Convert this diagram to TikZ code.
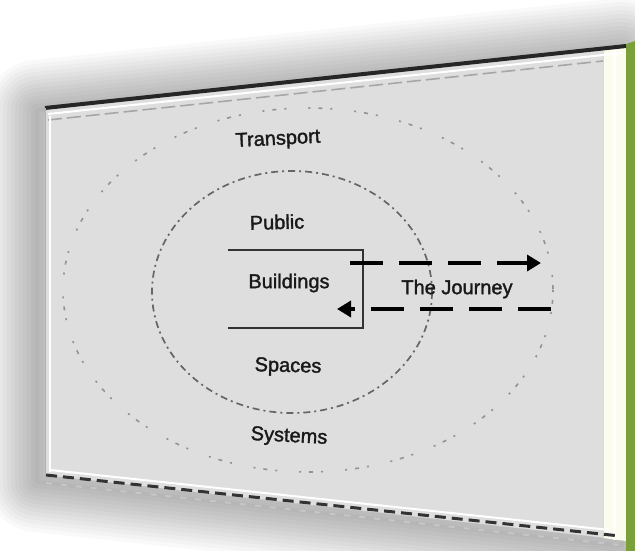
\documentclass[tikz,border=0pt]{standalone}
\usepackage{fontspec}
\setmainfont{Liberation Sans}
\newfontfamily\lblfont{Liberation Sans}[FakeBold=1.6]
\usetikzlibrary{arrows.meta}
\definecolor{framegreen}{RGB}{122,160,58}
\definecolor{panel}{RGB}{222,222,223}
\definecolor{cream}{RGB}{252,252,238}

\begin{document}
\begin{tikzpicture}[x=1pt,y=-1pt,
  lbl/.style={font=\lblfont\fontsize{20}{22}\selectfont, text=black!90, inner sep=0pt},
  outerring/.style={gray!85, line width=1.6pt,
    dash pattern=on 2pt off 8pt on 4pt off 8pt on 2pt off 22pt},
  innerring/.style={black!60, line width=1.7pt,
    dash pattern=on 7pt off 4pt on 2pt off 4pt},
  boxline/.style={black!80, line width=1.6pt},
  journey/.style={black, line width=4pt, dash pattern=on 33pt off 16pt,
    -{Triangle[length=14pt,width=16pt]}},
]
% page background
\fill[white] (0,0) rectangle (635,551);
\useasboundingbox (0,0) rectangle (635,551);

% soft drop shadow behind the board
\foreach \w in {100,92,...,4} {
  \draw[black, draw opacity=0.022, line width=\w pt, line join=round]
    (37,110) -- (622,48) -- (622,546) -- (37,482) -- cycle;
}

% the board, seen in perspective
\fill[panel] (45,108) -- (625,47) -- (625,540) -- (45,475) -- cycle;
% light band along the right edge and the green side strip
\fill[cream] (603,50) -- (626,47) -- (626,541) -- (603,538) -- cycle;
\draw[white, line width=3pt] (614,50) -- (614,540);
\draw[gray!30, line width=0.8pt] (603,51) -- (603,538);
\fill[framegreen] (626,44) -- (635,41) -- (635,551) -- (626,551) -- cycle;

% top edge: dark rim, white line, grey dashed line
\draw[black!85, line width=4pt] (45,108) -- (626,46);
\draw[white, line width=2pt] (48,114) -- (622,53);
\draw[gray!70, line width=1.6pt, dash pattern=on 14pt off 5pt] (48,120) -- (603,61);
% left edge
\draw[gray!60, line width=1pt] (45.5,108) -- (45.5,475);
\draw[white, line width=2pt] (49.5,116) -- (49.5,472);
% bottom edge: white line, dark dashes, pale dashes
\draw[white, line width=2pt] (50,470) -- (610,530);
\draw[black!80, line width=3pt, dash pattern=on 11pt off 6pt] (46,475) -- (620,536);
\draw[gray!45, line width=2pt, dash pattern=on 6pt off 9pt] (46,483) -- (620,545);

% rings
\draw[outerring] (308,290) ellipse [x radius=245, y radius=182];
\draw[innerring] (292,292) ellipse [x radius=140, y radius=121];

% labels
\node[lbl, rotate=3]   (transport) at (278,140) {Transport};
\node[lbl, rotate=1.5] (public)    at (277,222) {Public};
\node[lbl]             (buildings) at (289,283) {Buildings};
\node[lbl]             (journey)   at (457,289) {The Journey};
\node[lbl, rotate=-1.5](spaces)    at (288,367) {Spaces};
\node[lbl, rotate=-3]  (systems)   at (289,437) {Systems};

% open box round Buildings
\node (box) [minimum width=135, minimum height=78, inner sep=0pt] at (295.5,289) {};
\draw[boxline] (box.north west) -- (box.north east) -- (box.south east) -- (box.south west);

% journey arrows
\coordinate (goA)   at (350,263);
\coordinate (goB)   at (541,263);
\coordinate (backA) at (551,309);
\coordinate (backB) at (337,309);
\draw[journey] (goA) -- (goB);
\draw[journey] (backA) -- (backB);
\end{tikzpicture}
\end{document}
